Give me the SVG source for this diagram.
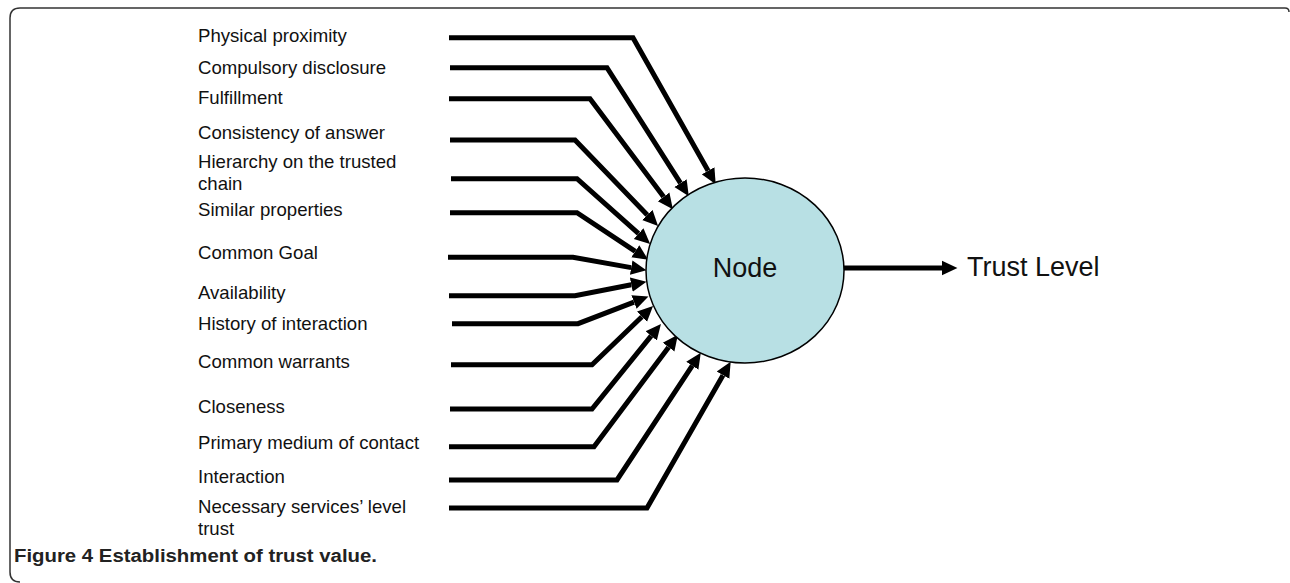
<svg xmlns="http://www.w3.org/2000/svg" width="1290" height="583" viewBox="0 0 1290 583">
<style>
.lbl{font-family:"Liberation Sans",Arial,sans-serif;font-size:18.6px;fill:#111}
.big{font-family:"Liberation Sans",Arial,sans-serif;font-size:27px;fill:#111}
.cap{font-family:"Liberation Sans",Arial,sans-serif;font-weight:bold;font-size:17.5px;fill:#222}
.in{fill:none;stroke:#000;stroke-width:5;stroke-linejoin:miter;marker-end:url(#ah)}
</style>
<defs>
<marker id="ah" markerUnits="userSpaceOnUse" markerWidth="16" markerHeight="16" viewBox="0 -7 15 14" refX="0" refY="0" orient="auto">
<path d="M0,-6.8 L14.5,0 L0,6.8 z" fill="#000"/>
</marker>
</defs>
<rect width="1290" height="583" fill="#fff"/>
<path d="M20,582 Q10,582 10,572 L10,18 Q10,8 20,8 L1285,8 Q1289,8 1289,12" fill="none" stroke="#333" stroke-width="1.5"/>
<g id="labels">
<text class="lbl" x="198" y="42">Physical proximity</text>
<text class="lbl" x="198" y="74">Compulsory disclosure</text>
<text class="lbl" x="198" y="104">Fulfillment</text>
<text class="lbl" x="198" y="139">Consistency of answer</text>
<text class="lbl" x="198" y="168">Hierarchy on the trusted</text>
<text class="lbl" x="198" y="190">chain</text>
<text class="lbl" x="198" y="216">Similar properties</text>
<text class="lbl" x="198" y="259">Common Goal</text>
<text class="lbl" x="198" y="299">Availability</text>
<text class="lbl" x="198" y="330">History of interaction</text>
<text class="lbl" x="198" y="368">Common warrants</text>
<text class="lbl" x="198" y="413">Closeness</text>
<text class="lbl" x="198" y="449">Primary medium of contact</text>
<text class="lbl" x="198" y="483">Interaction</text>
<text class="lbl" x="198" y="513">Necessary services’ level</text>
<text class="lbl" x="198" y="535">trust</text>
</g>
<g id="connectors">
<path class="in" d="M449,37.7 L633,37.7 L708.1,170.8"/>
<path class="in" d="M450,67.7 L607,67.7 L680.5,183.2"/>
<path class="in" d="M449,98.7 L590,98.7 L663.6,196.8"/>
<path class="in" d="M450,140 L575,140 L647.3,214.9"/>
<path class="in" d="M451,178.7 L577,178.7 L638.6,233.7"/>
<path class="in" d="M450,212.7 L577,212.7 L635.3,251.3"/>
<path class="in" d="M448,257.3 L573,257.3 L631.2,267.6"/>
<path class="in" d="M449,295.7 L575,295.7 L631.3,284.7"/>
<path class="in" d="M452,323.7 L578,323.7 L634,302.1"/>
<path class="in" d="M451,364.7 L592,364.7 L641.9,316.7"/>
<path class="in" d="M450,409 L592,409 L651.2,335.9"/>
<path class="in" d="M449,446.7 L594,446.7 L668.6,347.2"/>
<path class="in" d="M449,480 L617,480 L692.3,365.7"/>
<path class="in" d="M449,508 L647,508 L723,375.2"/>
<path class="in" d="M844,268 L942,268"/>
</g>
<g id="node">
<ellipse cx="745" cy="270.5" rx="99" ry="92.5" fill="#b8e0e4" stroke="#000" stroke-width="1.5"/>
<text class="big" x="745" y="277" text-anchor="middle">Node</text>
</g>
<g id="trust-level">
<text class="big" x="967" y="276">Trust Level</text>
</g>
<text class="cap" x="14" y="562" textLength="363" lengthAdjust="spacingAndGlyphs">Figure 4 Establishment of trust value.</text>
</svg>
